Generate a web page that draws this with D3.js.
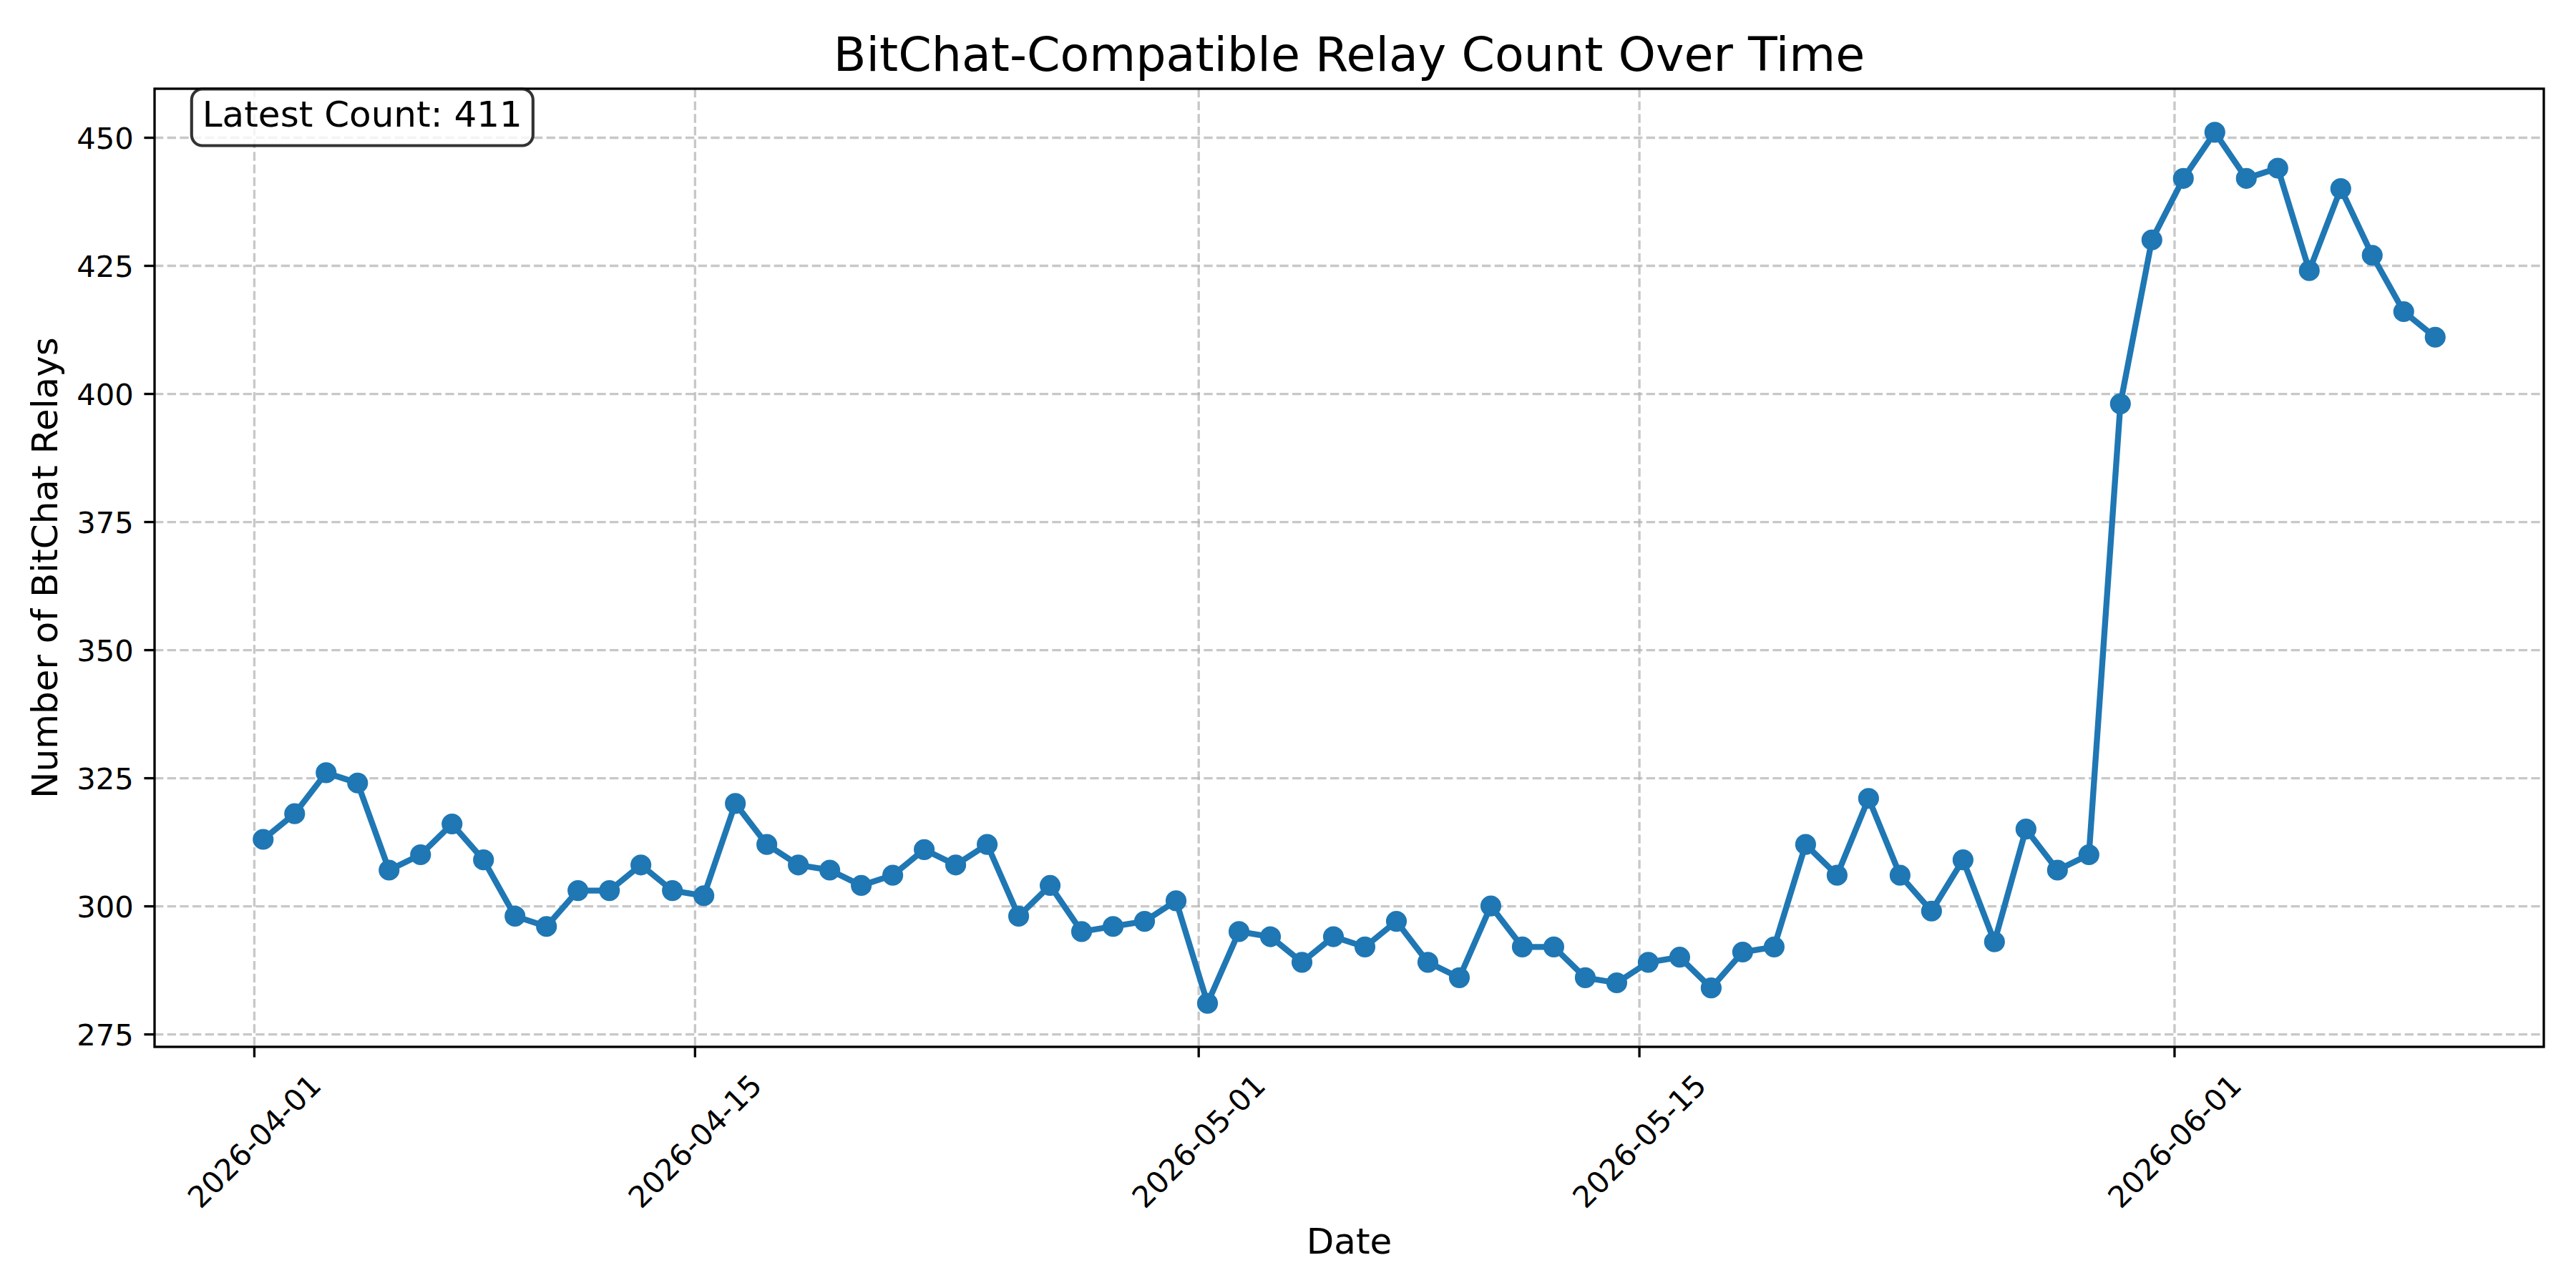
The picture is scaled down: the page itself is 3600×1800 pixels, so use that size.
<!DOCTYPE html>
<html>
<head>
<meta charset="utf-8">
<script src="https://cdn.jsdelivr.net/npm/d3@7"></script>
<style>
  body { margin: 0; background: #fff; }
  text { font-family: "DejaVu Sans", sans-serif; fill: #000; }
</style>
</head>
<body>
<div id="chart"></div>
<script>
// daily samples
let dates = [
  "2026-04-01 07:00", "2026-04-02 07:00", "2026-04-03 07:00", "2026-04-04 07:00", "2026-04-05 07:00",
  "2026-04-06 07:00", "2026-04-07 07:00", "2026-04-08 07:00", "2026-04-09 07:00", "2026-04-10 07:00",
  "2026-04-11 07:00", "2026-04-12 07:00", "2026-04-13 07:00", "2026-04-14 07:00", "2026-04-15 07:00",
  "2026-04-16 07:00", "2026-04-17 07:00", "2026-04-18 07:00", "2026-04-19 07:00", "2026-04-20 07:00",
  "2026-04-21 07:00", "2026-04-22 07:00", "2026-04-23 07:00", "2026-04-24 07:00", "2026-04-25 07:00",
  "2026-04-26 07:00", "2026-04-27 07:00", "2026-04-28 07:00", "2026-04-29 07:00", "2026-04-30 07:00",
  "2026-05-01 07:00", "2026-05-02 07:00", "2026-05-03 07:00", "2026-05-04 07:00", "2026-05-05 07:00",
  "2026-05-06 07:00", "2026-05-07 07:00", "2026-05-08 07:00", "2026-05-09 07:00", "2026-05-10 07:00",
  "2026-05-11 07:00", "2026-05-12 07:00", "2026-05-13 07:00", "2026-05-14 07:00", "2026-05-15 07:00",
  "2026-05-16 07:00", "2026-05-17 07:00", "2026-05-18 07:00", "2026-05-19 07:00", "2026-05-20 07:00",
  "2026-05-21 07:00", "2026-05-22 07:00", "2026-05-23 07:00", "2026-05-24 07:00", "2026-05-25 07:00",
  "2026-05-26 07:00", "2026-05-27 07:00", "2026-05-28 07:00", "2026-05-29 07:00", "2026-05-30 07:00",
  "2026-05-31 07:00", "2026-06-01 07:00", "2026-06-02 07:00", "2026-06-03 07:00", "2026-06-04 07:00",
  "2026-06-05 07:00", "2026-06-06 07:00", "2026-06-07 07:00", "2026-06-08 07:00", "2026-06-09 07:00"
];

let relayCounts = [
  313, 318, 326, 324, 307, 310, 316, 309, 298, 296,
  303, 303, 308, 303, 302, 320, 312, 308, 307, 304,
  306, 311, 308, 312, 298, 304, 295, 296, 297, 301,
  281, 295, 294, 289, 294, 292, 297, 289, 286, 300,
  292, 292, 286, 285, 289, 290, 284, 291, 292, 312,
  306, 321, 306, 299, 309, 293, 315, 307, 310, 398,
  430, 442, 451, 442, 444, 424, 440, 427, 416, 411
];

let xTickLabels = ["2026-04-01", "2026-04-15", "2026-05-01", "2026-05-15", "2026-06-01"];
let yTickValues = [275, 300, 325, 350, 375, 400, 425, 450];

let titleText = "BitChat-Compatible Relay Count Over Time";
let xLabelText = "Date";
let yLabelText = "Number of BitChat Relays";

// set the dimensions and margins of the graph
let margin = {top: 124, right: 45, bottom: 337, left: 216},
    width = 3600 - margin.left - margin.right,
    height = 1800 - margin.top - margin.bottom;

let pt = 300 / 72;   // the original was rendered at 300 dpi
let blue = "#1f77b4";

let parseTime = d3.timeParse("%Y-%m-%d %H:%M");
let parseDay = d3.timeParse("%Y-%m-%d");
let data = dates.map((d, i) => ({date: parseTime(d), value: relayCounts[i]}));

let root = d3.select("#chart")
    .append("svg")
    .attr("width", 3600)
    .attr("height", 1800);

let svg = root.append("g")
    .attr("transform", "translate(" + margin.left + "," + margin.top + ")");

// scales with 5% padding like matplotlib's autoscale
let xExt = d3.extent(data, d => d.date);
let xPad = (xExt[1] - xExt[0]) * 0.05;
let x = d3.scaleTime()
    .domain([new Date(+xExt[0] - xPad), new Date(+xExt[1] + xPad)])
    .range([0, width]);

let yExt = d3.extent(data, d => d.value);
let yPad = (yExt[1] - yExt[0]) * 0.05;
let y = d3.scaleLinear()
    .domain([yExt[0] - yPad, yExt[1] + yPad])
    .range([height, 0]);

let xTicks = xTickLabels.map(parseDay);

// grid
let gridStyle = g => g.selectAll("line")
    .attr("stroke", "#b0b0b0")
    .attr("stroke-opacity", 0.7)
    .attr("stroke-width", 0.8 * pt)
    .attr("stroke-dasharray", (3.7 * 0.8 * pt) + "," + (1.6 * 0.8 * pt));

svg.append("g")
    .call(d3.axisBottom(x).tickValues(xTicks).tickSize(height).tickFormat(""))
    .call(g => g.select(".domain").remove())
    .call(gridStyle);

svg.append("g")
    .call(d3.axisLeft(y).tickValues(yTickValues).tickSize(-width).tickFormat(""))
    .call(g => g.select(".domain").remove())
    .call(gridStyle);

// the line
svg.append("path")
    .datum(data)
    .attr("fill", "none")
    .attr("stroke", blue)
    .attr("stroke-width", 2 * pt)
    .attr("stroke-linejoin", "round")
    .attr("d", d3.line()
        .x(d => x(d.date))
        .y(d => y(d.value)));

// markers
svg.selectAll("circle.pt")
    .data(data)
    .enter()
    .append("circle")
    .attr("class", "pt")
    .attr("cx", d => x(d.date))
    .attr("cy", d => y(d.value))
    .attr("r", 3 * pt)
    .attr("fill", blue)
    .attr("stroke", blue)
    .attr("stroke-width", 1 * pt);

// frame
svg.append("rect")
    .attr("width", width)
    .attr("height", height)
    .attr("fill", "none")
    .attr("stroke", "#000")
    .attr("stroke-width", 0.8 * pt);

// Y axis
let yAxis = svg.append("g")
    .call(d3.axisLeft(y).tickValues(yTickValues).tickSize(3.5 * pt).tickPadding(3.5 * pt));
yAxis.select(".domain").remove();
yAxis.selectAll("line").attr("stroke", "#000").attr("stroke-width", 0.8 * pt);
yAxis.selectAll("text")
    .attr("font-family", "DejaVu Sans")
    .attr("font-size", 10 * pt)
    .attr("dy", "0.36em");

// X axis with rotated labels
let xAxis = svg.append("g")
    .attr("transform", "translate(0," + height + ")")
    .call(d3.axisBottom(x).tickValues(xTicks).tickSize(3.5 * pt)
        .tickFormat(d3.timeFormat("%Y-%m-%d")));
xAxis.select(".domain").remove();
xAxis.selectAll("line").attr("stroke", "#000").attr("stroke-width", 0.8 * pt);
xAxis.selectAll("text")
    .attr("font-family", "DejaVu Sans")
    .attr("font-size", 10 * pt)
    .attr("text-anchor", "middle")
    .attr("y", 0)
    .attr("dy", "0.35em")
    .attr("transform", function() {
        let w = this.getComputedTextLength();
        let h = 10 * pt * 1.16;
        let half = (w + h) / (2 * Math.SQRT2);
        return "translate(0," + (7 * pt + half) + ") rotate(-45)";
    });

// axis labels and title
svg.append("text")
    .attr("x", width / 2)
    .attr("y", height + 289)
    .attr("text-anchor", "middle")
    .attr("font-size", 12 * pt)
    .text(xLabelText);

svg.append("text")
    .attr("transform", "translate(" + (-154) + "," + (height / 2) + ") rotate(-90)")
    .attr("text-anchor", "middle")
    .attr("dy", "0.35em")
    .attr("font-size", 12 * pt)
    .text(yLabelText);

svg.append("text")
    .attr("x", width / 2)
    .attr("y", -25)
    .attr("text-anchor", "middle")
    .attr("font-size", 16 * pt)
    .text(titleText);

// latest count annotation box
let latest = relayCounts[relayCounts.length - 1];
let note = svg.append("g");
let noteText = note.append("text")
    .attr("x", width * 0.02)
    .attr("y", 53)
    .attr("font-size", 12 * pt)
    .text("Latest Count: " + latest);
let bb = noteText.node().getBBox();
note.insert("rect", "text")
    .attr("x", bb.x - 0.3 * 12 * pt)
    .attr("y", 0.5)
    .attr("width", bb.width + 0.6 * 12 * pt)
    .attr("height", 79)
    .attr("rx", 0.3 * 12 * pt)
    .attr("fill", "#fff")
    .attr("fill-opacity", 0.8)
    .attr("stroke", "#000")
    .attr("stroke-opacity", 0.8)
    .attr("stroke-width", 1 * pt);
</script>
</body>
</html>
